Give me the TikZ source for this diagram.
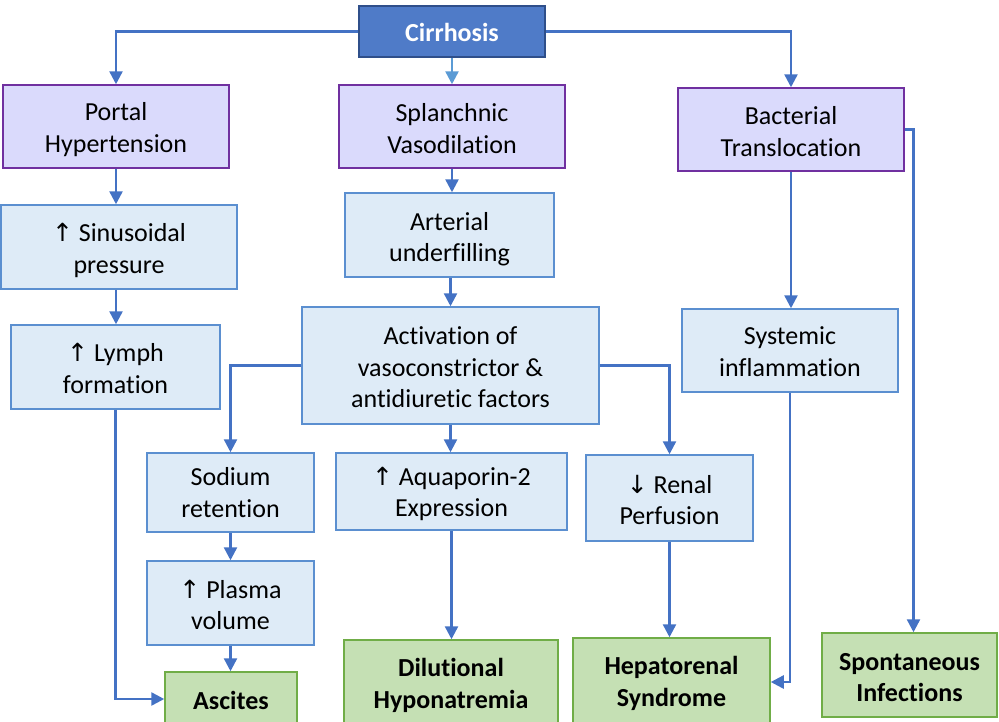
\documentclass[tikz,border=0pt]{standalone}
\usepackage{fontspec}
\setmainfont{Carlito}[Ligatures=NoCommon]
\newfontfamily\arrfont{DejaVu Sans}
\usetikzlibrary{arrows.meta}
\definecolor{cirfill}{HTML}{4F7BC8}
\definecolor{cirdraw}{HTML}{2F4F8A}
\definecolor{purfill}{HTML}{DADAFC}
\definecolor{purdraw}{HTML}{7030A0}
\definecolor{bluefill}{HTML}{DEEBF7}
\definecolor{bluedraw}{HTML}{5B8FD0}
\definecolor{greenfill}{HTML}{C5E0B4}
\definecolor{greendraw}{HTML}{70AD47}
\definecolor{conncol}{HTML}{4472C4}
\definecolor{lightconn}{HTML}{5B9BD5}
\newcommand{\upar}{{\arrfont\fontsize{25}{31}\selectfont ↑}}
\newcommand{\dnar}{{\arrfont\fontsize{25}{31}\selectfont ↓}}
\begin{document}
\begin{tikzpicture}[x=1pt,y=-1pt,
 base/.style={rectangle, inner sep=0pt, line width=1.5pt},
 lbl/.style={inner sep=0pt, align=center, font=\fontsize{26}{31.5}\selectfont},
 lblb/.style={lbl, font=\bfseries\fontsize{26}{31.5}\selectfont},
 cirbox/.style={base, draw=cirdraw, fill=cirfill},
 purbox/.style={base, draw=purdraw, fill=purfill},
 bluebox/.style={base, draw=bluedraw, fill=bluefill},
 greenbox/.style={base, draw=greendraw, fill=greenfill},
 conn/.style={draw=conncol, line width=2.5pt, -{Triangle[width=13pt,length=13pt]}}
]
\useasboundingbox (0,0) rectangle (999,721);
\clip (0,0) rectangle (999,721);
\fill[white] (0,0) rectangle (999,721);

\node[cirbox, minimum width=186pt, minimum height=51pt,
  label={[lblb, text=white, yshift=-1pt]center:Cirrhosis}] (cir) at (452,31.5) {};
\node[purbox, minimum width=226pt, minimum height=83pt,
  label={[lbl, yshift=-3pt]center:{Portal\\Hypertension}}] (portal) at (116,126.5) {};
\node[purbox, minimum width=226pt, minimum height=83pt,
  label={[lbl, yshift=-2pt]center:{Splanchnic\\Vasodilation}}] (splan) at (452,126.5) {};
\node[purbox, minimum width=226pt, minimum height=83pt,
  label={[lbl, yshift=-2pt]center:{Bacterial\\Translocation}}] (bact) at (791,129.5) {};
\node[bluebox, minimum width=236pt, minimum height=84pt,
  label={[lbl, yshift=-3.5pt]center:{\upar{} Sinusoidal\\pressure}}] (sinus) at (119,247) {};
\node[bluebox, minimum width=209pt, minimum height=84pt,
  label={[lbl, yshift=-1.5pt]center:{\upar{} Lymph\\formation}}] (lymph) at (115.5,367) {};
\node[bluebox, minimum width=209pt, minimum height=84pt,
  label={[lbl, yshift=-4pt]center:{Arterial\\underfilling}}] (arterial) at (449.5,235) {};
\node[bluebox, minimum width=297pt, minimum height=117pt,
  label={[lbl, yshift=-2pt]center:{Activation of\\vasoconstrictor \&\\antidiuretic factors}}] (activ) at (450.5,365.5) {};
\node[bluebox, minimum width=216pt, minimum height=83pt,
  label={[lbl, yshift=-1pt]center:{Systemic\\inflammation}}] (systemic) at (790,350.5) {};
\node[bluebox, minimum width=167pt, minimum height=79pt,
  label={[lbl]center:{Sodium\\retention}}] (sodium) at (230.5,492.5) {};
\node[bluebox, minimum width=231pt, minimum height=77pt,
  label={[lbl, yshift=-2.5pt]center:{\upar{} Aquaporin-2\\Expression}}] (aqua) at (451.5,491.5) {};
\node[bluebox, minimum width=167pt, minimum height=86pt,
  label={[lbl, yshift=-2pt]center:{\dnar{} Renal\\Perfusion}}] (renal) at (669.5,498) {};
\node[bluebox, minimum width=167pt, minimum height=84pt,
  label={[lbl, yshift=-2pt]center:{\upar{} Plasma\\volume}}] (plasma) at (230.5,603) {};
\node[greenbox, minimum width=132pt, minimum height=54pt,
  label={[lblb, yshift=-1pt]center:Ascites}] (ascites) at (231,699) {};
\node[greenbox, minimum width=214pt, minimum height=88pt,
  label={[lblb, yshift=-1.5pt]center:{Dilutional\\Hyponatremia}}] (dilut) at (451,684) {};
\node[greenbox, minimum width=197pt, minimum height=88pt,
  label={[lblb, yshift=-1.5pt]center:{Hepatorenal\\Syndrome}}] (hepato) at (671.5,682) {};
\node[greenbox, minimum width=175pt, minimum height=84pt,
  label={[lblb, yshift=-2.5pt]center:{Spontaneous\\Infections}}] (spont) at (909.5,675) {};

\draw[conn] (cir.west) -| (portal.north);
\draw[conn, draw=lightconn] (cir.south) -- (splan.north);
\draw[conn] (cir.east) -| (bact.north);
\draw[conn] (portal.south) -- (portal.south |- sinus.north);
\draw[conn] (portal.south |- sinus.south) -- (portal.south |- lymph.north);
\draw[conn] (lymph.south) |- (ascites.west);
\draw[conn] (splan.south) -- (splan.south |- arterial.north);
\draw[conn] (activ.north |- arterial.south) -- (activ.north);
\draw[conn] (activ.west) -| (sodium.north);
\draw[conn] (activ.south) -- (activ.south |- aqua.north);
\draw[conn] (activ.east) -| (renal.north);
\draw[conn] (sodium.south) -- (plasma.north);
\draw[conn] (plasma.south) -- (plasma.south |- ascites.north);
\draw[conn] (aqua.south) -- (aqua.south |- dilut.north);
\draw[conn] (renal.south) -- (renal.south |- hepato.north);
\draw[conn] (bact.south) -- (bact.south |- systemic.north);
\draw[conn] (systemic.south) |- (hepato.east);
\draw[conn] (bact.east) -| ([xshift=4pt]spont.north);
\end{tikzpicture}
\end{document}
